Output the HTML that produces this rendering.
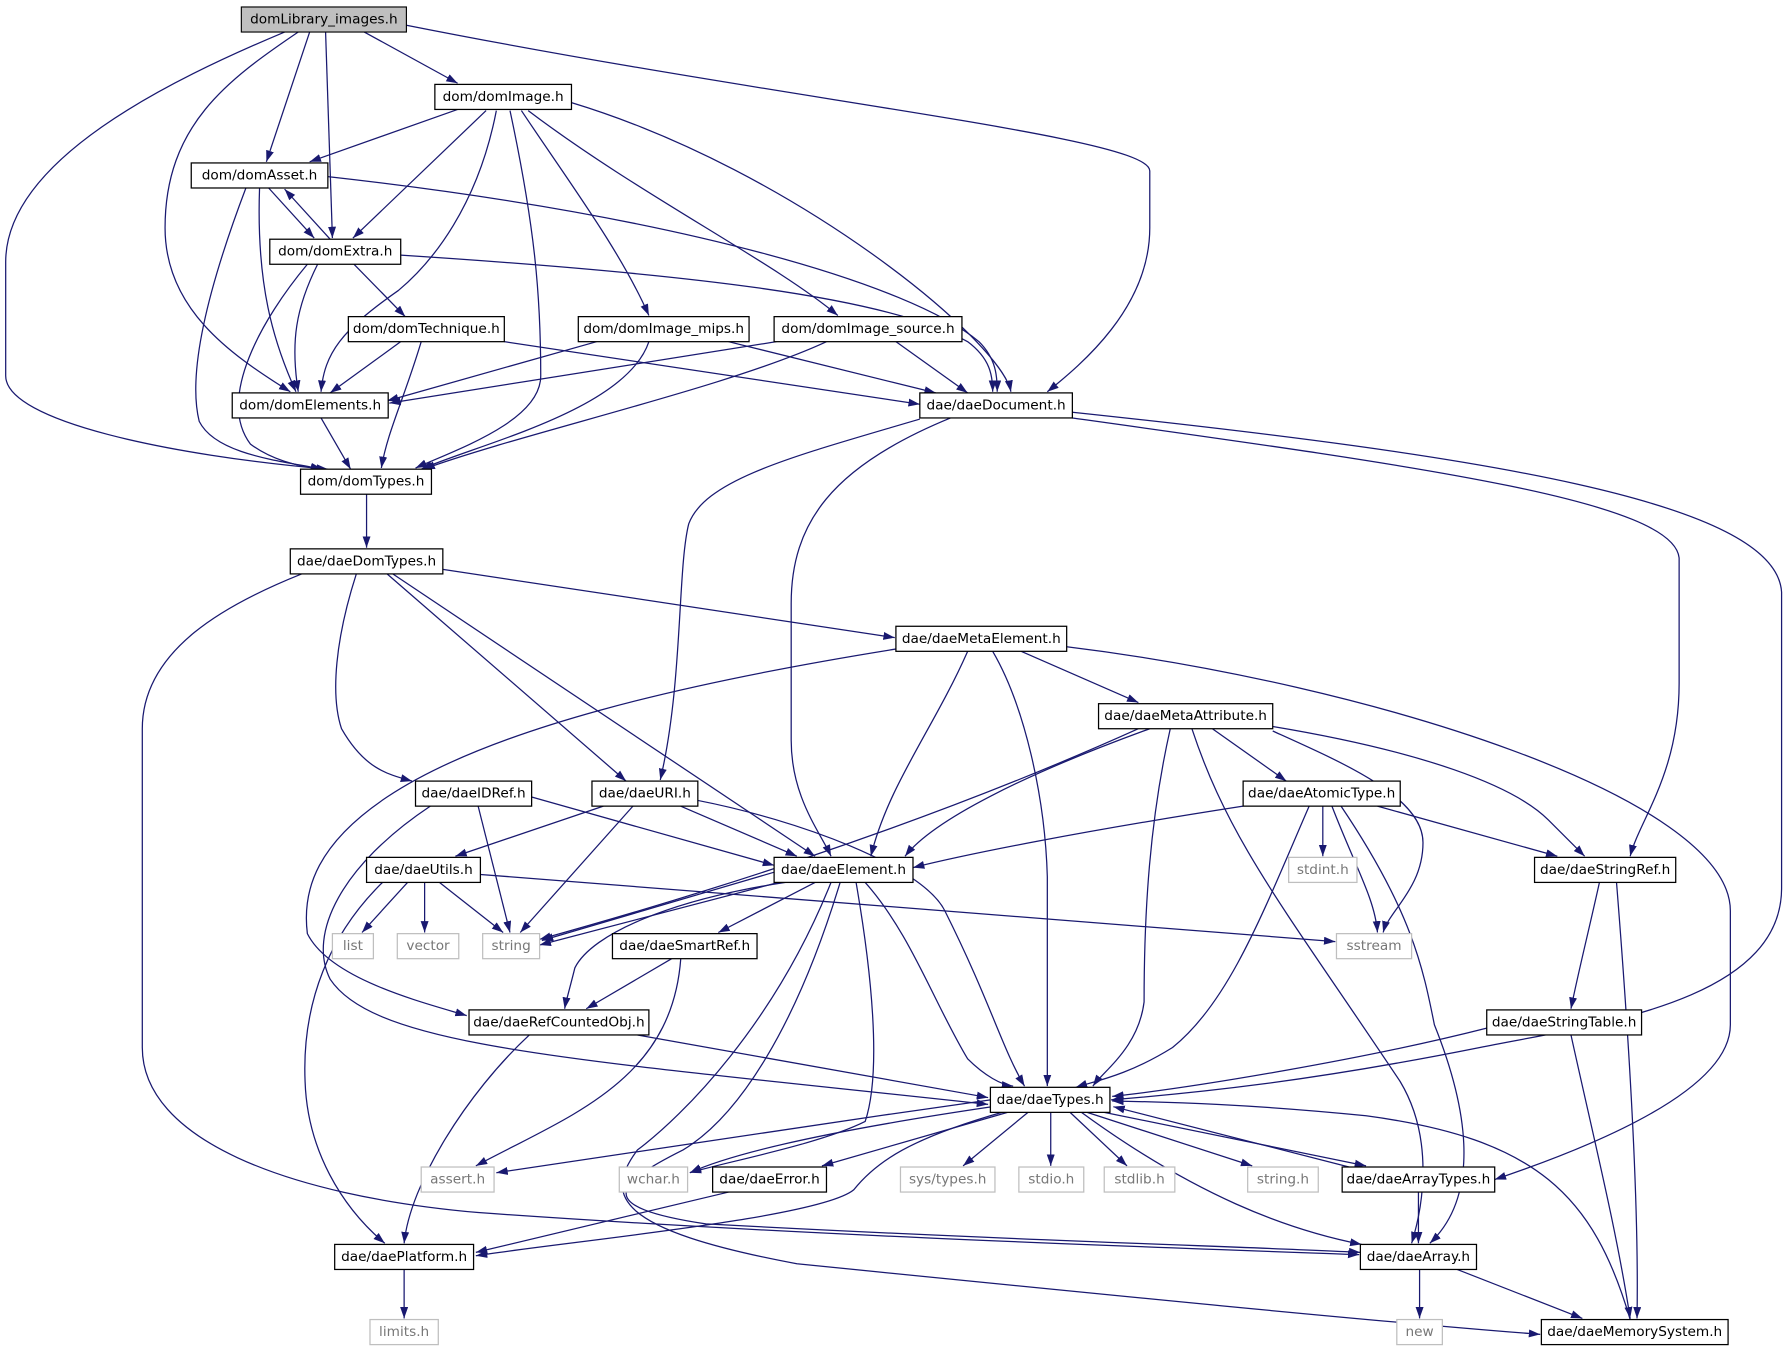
<!DOCTYPE html>
<html><head><meta charset="utf-8"><style>
html,body{margin:0;padding:0;background:#fff}
svg{display:block}
text{font-family:"DejaVu Sans","Liberation Sans",sans-serif;font-size:12px;text-anchor:middle;dominant-baseline:central}
.e{fill:none;stroke:#191970;stroke-width:1.1;marker-end:url(#a)}
.n{fill:#fff;stroke:#000;stroke-width:1.1}
.g{fill:#fff;stroke:#bfbfbf;stroke-width:1.1}
.gt{fill:#777}
</style></head><body>
<svg width="1785" height="1355" viewBox="0 0 1568 1190" xmlns="http://www.w3.org/2000/svg">
<defs><marker id="a" markerUnits="userSpaceOnUse" markerWidth="11" markerHeight="8" refX="10" refY="3.5" orient="auto"><path d="M0,0 L10,3.5 L0,7 z" fill="#191970"/></marker></defs>
<g>
<path class="e" d="M320,28 L402,73"/>
<path class="e" d="M272,28 L234,142"/>
<path class="e" d="M286,28 L292,209"/>
<path class="e" d="M262,28 C200,70 145,110 145,200 C145,270 200,310 255,344"/>
<path class="e" d="M250,28 C150,70 5,140 5,230 V330 C5,370 150,400 288,412"/>
<path class="e" d="M357,22 C700,90 1010,120 1010,150 V200 C1010,270 950,320 920,344"/>
<path class="e" d="M402,96 L272,142"/>
<path class="e" d="M427,97 L310,209"/>
<path class="e" d="M436,97 C420,180 380,230 350,255 C300,290 285,310 282,344"/>
<path class="e" d="M448,97 C470,200 475,260 475,330 C475,370 400,395 365,411"/>
<path class="e" d="M458,97 C500,160 545,220 570,277"/>
<path class="e" d="M464,97 C560,170 680,230 736,277"/>
<path class="e" d="M502,90 C700,150 880,300 888,344"/>
<path class="e" d="M236,165 L276,209"/>
<path class="e" d="M290,210 L250,166"/>
<path class="e" d="M228,165 C225,250 240,300 260,344"/>
<path class="e" d="M216,165 C180,260 165,330 175,370 C190,400 250,405 283,412"/>
<path class="e" d="M288,155 C600,190 800,250 860,300 C875,315 876,330 876,344"/>
<path class="e" d="M279,232 C260,270 255,300 262,344"/>
<path class="e" d="M270,232 C230,280 190,350 220,390 C240,405 265,410 283,412"/>
<path class="e" d="M311,232 L356,278"/>
<path class="e" d="M352,224 C600,240 780,260 850,300 C870,315 872,330 872,344"/>
<path class="e" d="M352,300 L290,345"/>
<path class="e" d="M370,300 C355,350 340,380 335,411"/>
<path class="e" d="M443,300 L808,355"/>
<path class="e" d="M524,300 L340,352"/>
<path class="e" d="M570,300 C550,360 420,390 370,412"/>
<path class="e" d="M640,300 L822,345"/>
<path class="e" d="M682,300 L342,354"/>
<path class="e" d="M726,300 C640,340 460,380 372,412"/>
<path class="e" d="M787,300 L850,345"/>
<path class="e" d="M282,367 L308,412"/>
<path class="e" d="M322,434 V481"/>
<path class="e" d="M808,368 C700,400 620,420 605,460 C595,500 600,600 580,685"/>
<path class="e" d="M835,367 C730,410 695,460 695,530 V650 C695,700 720,730 730,752"/>
<path class="e" d="M942,367 C1250,410 1470,440 1475,490 V600 C1475,680 1440,720 1432,752"/>
<path class="e" d="M942,362 C1300,400 1560,440 1565,520 V780 C1565,880 1400,900 1300,920 C1150,950 1050,960 976,966"/>
<path class="e" d="M389,500 L786,560"/>
<path class="e" d="M313,504 C295,560 290,610 300,640 C320,675 340,680 362,686"/>
<path class="e" d="M340,504 L550,686"/>
<path class="e" d="M345,504 L716,752"/>
<path class="e" d="M265,504 C200,530 125,570 125,640 V920 C125,1000 250,1050 420,1065 C700,1085 1000,1095 1194,1102"/>
<path class="e" d="M787,570 C600,600 430,640 340,700 C280,740 265,780 270,820 C290,860 370,880 410,892"/>
<path class="e" d="M850,572 C820,640 780,690 765,752"/>
<path class="e" d="M872,572 C900,620 918,700 920,770 V954"/>
<path class="e" d="M897,572 L1000,617"/>
<path class="e" d="M937,568 C1200,600 1520,700 1520,800 V900 C1520,960 1390,1010 1313,1036"/>
<path class="e" d="M1000,640 C800,730 600,790 474,825"/>
<path class="e" d="M1010,640 C900,680 820,720 795,752"/>
<path class="e" d="M1028,640 C1010,720 1005,800 1005,880 C1000,920 970,940 960,954"/>
<path class="e" d="M1065,640 L1130,686"/>
<path class="e" d="M1047,640 C1080,740 1130,800 1230,950 C1260,1000 1250,1060 1240,1092"/>
<path class="e" d="M1118,642 C1180,670 1250,700 1250,740 C1250,780 1220,800 1215,819"/>
<path class="e" d="M1118,638 C1250,660 1330,690 1360,720 C1380,740 1388,748 1392,752"/>
<path class="e" d="M467,700 L680,760"/>
<path class="e" d="M420,708 L448,819"/>
<path class="e" d="M378,708 C300,760 270,820 290,860 C330,920 500,930 868,970"/>
<path class="e" d="M530,708 L400,752"/>
<path class="e" d="M556,708 L457,819"/>
<path class="e" d="M598,708 L700,752"/>
<path class="e" d="M613,703 C700,720 810,760 830,800 C870,880 880,920 900,954"/>
<path class="e" d="M1092,708 C950,730 850,750 802,762"/>
<path class="e" d="M1150,708 C1110,800 1080,880 1030,920 C990,945 960,950 945,955"/>
<path class="e" d="M1162,708 V752"/>
<path class="e" d="M1170,708 C1190,760 1208,790 1210,819"/>
<path class="e" d="M1178,708 C1240,800 1250,850 1260,900 C1300,1000 1290,1060 1256,1092"/>
<path class="e" d="M1210,708 L1368,752"/>
<path class="e" d="M358,775 L318,819"/>
<path class="e" d="M373,775 V819"/>
<path class="e" d="M386,775 L442,819"/>
<path class="e" d="M422,768 L1173,827"/>
<path class="e" d="M336,775 C290,820 265,880 268,950 C270,1010 300,1060 338,1092"/>
<path class="e" d="M680,766 L476,826"/>
<path class="e" d="M684,775 L474,830"/>
<path class="e" d="M690,775 C590,790 520,820 505,850 C500,870 497,880 496,886"/>
<path class="e" d="M716,775 L631,819"/>
<path class="e" d="M760,775 C800,820 820,880 850,930 C865,945 880,953 890,954"/>
<path class="e" d="M752,775 C765,850 775,940 760,985 C720,1005 640,1020 606,1030"/>
<path class="e" d="M730,775 C680,900 600,980 560,1010 C530,1050 540,1080 700,1110 C1000,1140 1200,1160 1353,1172"/>
<path class="e" d="M738,775 C700,900 650,980 600,1010 C540,1040 520,1060 620,1075 C900,1090 1100,1095 1195,1100"/>
<path class="e" d="M590,842 L515,886"/>
<path class="e" d="M598,842 C590,950 500,980 418,1024"/>
<path class="e" d="M560,909 L868,964"/>
<path class="e" d="M465,909 C410,960 360,1040 355,1092"/>
<path class="e" d="M1405,775 C1395,820 1385,860 1380,886"/>
<path class="e" d="M1420,775 C1430,900 1440,1050 1438,1158"/>
<path class="e" d="M1306,903 C1200,930 1050,955 977,963"/>
<path class="e" d="M1380,909 C1400,1000 1420,1080 1432,1158"/>
<path class="e" d="M870,966 C700,990 500,1020 436,1030"/>
<path class="e" d="M872,972 C750,990 650,1010 606,1030"/>
<path class="e" d="M885,977 L722,1024"/>
<path class="e" d="M903,977 L846,1024"/>
<path class="e" d="M923,977 V1024"/>
<path class="e" d="M940,977 L990,1024"/>
<path class="e" d="M955,977 L1100,1024"/>
<path class="e" d="M970,977 L1200,1024"/>
<path class="e" d="M1185,1025 L978,972"/>
<path class="e" d="M950,977 C1050,1050 1130,1080 1196,1093"/>
<path class="e" d="M880,977 C800,1000 770,1020 750,1045 C720,1070 500,1090 418,1103"/>
<path class="e" d="M1432,1159 C1400,1050 1350,1000 1200,980 C1100,970 1030,968 977,967"/>
<path class="e" d="M640,1047 L418,1100"/>
<path class="e" d="M1246,1047 V1092"/>
<path class="e" d="M355,1115 V1158"/>
<path class="e" d="M1247,1115 V1158"/>
<path class="e" d="M1280,1115 L1390,1158"/>
</g>
<g>
<rect x="212" y="6" width="145" height="22" fill="#bfbfbf" stroke="#000"/><text x="284.5" y="17">domLibrary_images.h</text>
<rect class="n" x="382" y="74" width="120" height="22"/><text x="442" y="85">dom/domImage.h</text>
<rect class="n" x="168" y="143" width="120" height="22"/><text x="228" y="154">dom/domAsset.h</text>
<rect class="n" x="237" y="210" width="115" height="22"/><text x="294.5" y="221">dom/domExtra.h</text>
<rect class="n" x="306" y="278" width="137" height="22"/><text x="374.5" y="289">dom/domTechnique.h</text>
<rect class="n" x="508" y="278" width="150" height="22"/><text x="583" y="289">dom/domImage_mips.h</text>
<rect class="n" x="680" y="278" width="165" height="22"/><text x="762.5" y="289">dom/domImage_source.h</text>
<rect class="n" x="204" y="345" width="137" height="22"/><text x="272.5" y="356">dom/domElements.h</text>
<rect class="n" x="808" y="345" width="134" height="22"/><text x="875" y="356">dae/daeDocument.h</text>
<rect class="n" x="264" y="412" width="115" height="22"/><text x="321.5" y="423">dom/domTypes.h</text>
<rect class="n" x="255" y="482" width="134" height="22"/><text x="322" y="493">dae/daeDomTypes.h</text>
<rect class="n" x="787" y="550" width="150" height="22"/><text x="862" y="561">dae/daeMetaElement.h</text>
<rect class="n" x="965" y="618" width="153" height="22"/><text x="1041.5" y="629">dae/daeMetaAttribute.h</text>
<rect class="n" x="365" y="686" width="102" height="22"/><text x="416" y="697">dae/daeIDRef.h</text>
<rect class="n" x="520" y="686" width="93" height="22"/><text x="566.5" y="697">dae/daeURI.h</text>
<rect class="n" x="1092" y="686" width="138" height="22"/><text x="1161" y="697">dae/daeAtomicType.h</text>
<rect class="n" x="322" y="753" width="100" height="22"/><text x="372" y="764">dae/daeUtils.h</text>
<rect class="n" x="680" y="753" width="122" height="22"/><text x="741" y="764">dae/daeElement.h</text>
<rect class="g" x="1132" y="753" width="60" height="22"/><text class="gt" x="1162" y="764">stdint.h</text>
<rect class="n" x="1348" y="753" width="124" height="22"/><text x="1410" y="764">dae/daeStringRef.h</text>
<rect class="g" x="292" y="820" width="36" height="22"/><text class="gt" x="310" y="831">list</text>
<rect class="g" x="349" y="820" width="54" height="22"/><text class="gt" x="376" y="831">vector</text>
<rect class="g" x="424" y="820" width="50" height="22"/><text class="gt" x="449" y="831">string</text>
<rect class="g" x="1174" y="820" width="66" height="22"/><text class="gt" x="1207" y="831">sstream</text>
<rect class="n" x="538" y="820" width="127" height="22"/><text x="601.5" y="831">dae/daeSmartRef.h</text>
<rect class="n" x="412" y="887" width="158" height="22"/><text x="491" y="898">dae/daeRefCountedObj.h</text>
<rect class="n" x="1306" y="887" width="136" height="22"/><text x="1374" y="898">dae/daeStringTable.h</text>
<rect class="n" x="870" y="955" width="105" height="22"/><text x="922.5" y="966">dae/daeTypes.h</text>
<rect class="g" x="370" y="1025" width="64" height="22"/><text class="gt" x="402" y="1036">assert.h</text>
<rect class="g" x="544" y="1025" width="60" height="22"/><text class="gt" x="574" y="1036">wchar.h</text>
<rect class="n" x="626" y="1025" width="100" height="22"/><text x="676" y="1036">dae/daeError.h</text>
<rect class="g" x="791" y="1025" width="83" height="22"/><text class="gt" x="832.5" y="1036">sys/types.h</text>
<rect class="g" x="895" y="1025" width="57" height="22"/><text class="gt" x="923.5" y="1036">stdio.h</text>
<rect class="g" x="970" y="1025" width="62" height="22"/><text class="gt" x="1001" y="1036">stdlib.h</text>
<rect class="g" x="1096" y="1025" width="62" height="22"/><text class="gt" x="1127" y="1036">string.h</text>
<rect class="n" x="1179" y="1025" width="134" height="22"/><text x="1246" y="1036">dae/daeArrayTypes.h</text>
<rect class="n" x="294" y="1093" width="122" height="22"/><text x="355" y="1104">dae/daePlatform.h</text>
<rect class="n" x="1195" y="1093" width="102" height="22"/><text x="1246" y="1104">dae/daeArray.h</text>
<rect class="g" x="325" y="1159" width="60" height="22"/><text class="gt" x="355" y="1170">limits.h</text>
<rect class="g" x="1227" y="1159" width="40" height="22"/><text class="gt" x="1247" y="1170">new</text>
<rect class="n" x="1354" y="1159" width="164" height="22"/><text x="1436" y="1170">dae/daeMemorySystem.h</text>
</g>
</svg>
</body></html>
